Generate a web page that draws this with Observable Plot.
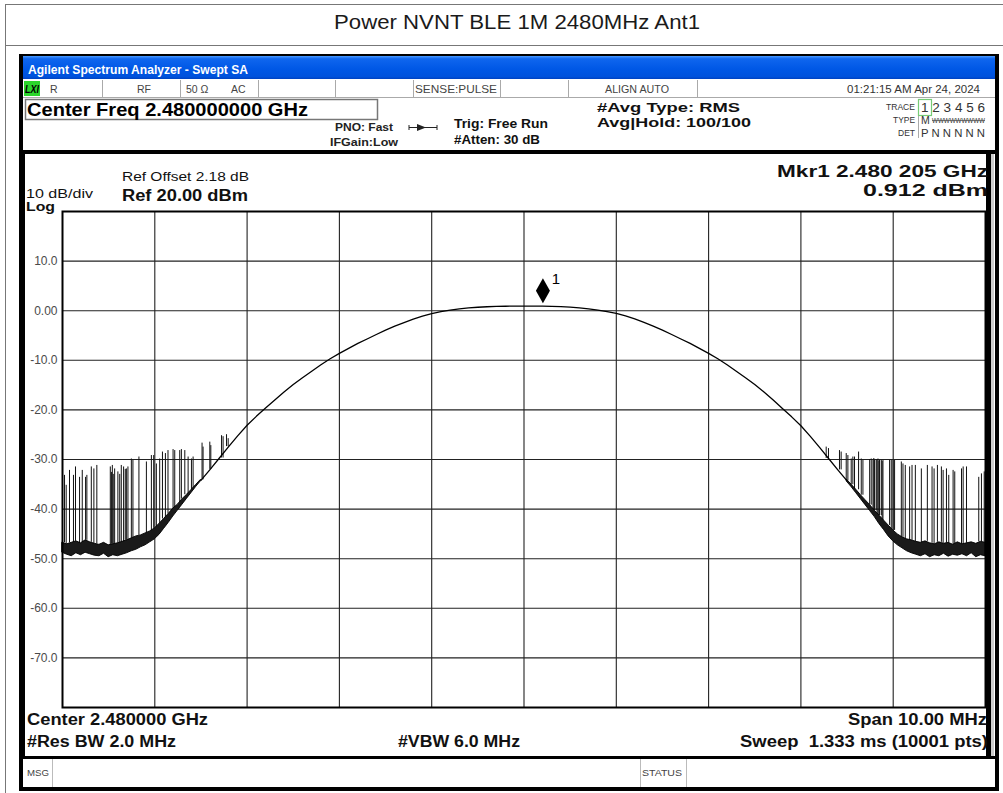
<!DOCTYPE html>
<html>
<head>
<meta charset="utf-8">
<script src="https://cdn.jsdelivr.net/npm/d3@7"></script>
<script src="https://cdn.jsdelivr.net/npm/@observablehq/plot@0.6"></script>
<style>
  html, body { margin: 0; padding: 0; background: #fff; }
  #page { position: relative; width: 1003px; height: 793px; overflow: hidden; }
  #chrome, #chart { position: absolute; left: 0; top: 0; }
  #chart { z-index: 2; }
  #chrome { z-index: 1; }
</style>
</head>
<body>
<div id="page">
  <div id="chrome"></div>
  <div id="chart"></div>
</div>
<script>
// ---------------- data ----------------
const chartTitle = "Power NVNT BLE 1M 2480MHz Ant1";
const xGridTicks = [-4, -3, -2, -1, 0, 1, 2, 3, 4];           // MHz offset from 2.480 GHz
const yGridTicks = [10, 0, -10, -20, -30, -40, -50, -60, -70]; // dBm
const yTickLabels = ["10.0", "0.00", "-10.0", "-20.0", "-30.0", "-40.0", "-50.0", "-60.0", "-70.0"];

// noise floor band (left)
const leftNoiseFreq = [-5.00,-4.95,-4.90,-4.85,-4.80,-4.75,-4.70,-4.65,-4.60,-4.55,-4.50,-4.45,-4.40,-4.35,-4.30,-4.25,-4.20,-4.15,-4.10,-4.05,-4.00,-3.95,-3.90,-3.85,-3.80,-3.75,-3.70,-3.65,-3.60,-3.55,-3.50];
const leftNoiseLow  = [-48.8,-49.2,-49.5,-48.9,-49.3,-48.8,-49.1,-49.4,-49.5,-49.0,-49.7,-49.3,-49.5,-49.2,-48.9,-48.5,-48.2,-47.7,-47.3,-46.7,-46.1,-45.2,-44.0,-42.8,-41.5,-40.3,-39.1,-37.9,-36.7,-35.5,-34.4];
const leftNoiseHigh = [-46.8,-47.1,-46.8,-46.5,-46.9,-46.3,-46.7,-47.0,-47.2,-46.8,-47.3,-47.1,-46.9,-46.6,-46.3,-45.9,-45.5,-45.3,-44.9,-44.5,-43.9,-43.0,-42.0,-41.0,-39.9,-39.1,-38.0,-37.1,-36.1,-35.1,-34.1];

// main channel curve
const curveFreq = [-3.5,-3.4,-3.3,-3.2,-3.1,-3.0,-2.9,-2.8,-2.7,-2.6,-2.5,-2.4,-2.3,-2.2,-2.1,-2.0,-1.9,-1.8,-1.7,-1.6,-1.5,-1.4,-1.3,-1.2,-1.1,-1.0,-0.9,-0.8,-0.7,-0.6,-0.5,-0.4,-0.3,-0.2,-0.1,0.0,0.1,0.2,0.3,0.4,0.5,0.6,0.7,0.8,0.9,1.0,1.1,1.2,1.3,1.4,1.5,1.6,1.7,1.8,1.9,2.0,2.1,2.2,2.3,2.4,2.5,2.6,2.7,2.8,2.9,3.0,3.1,3.2,3.3,3.4,3.5];
const curveLevel = [-34.2,-32.0,-29.7,-27.4,-25.2,-23.1,-21.3,-19.6,-18.0,-16.4,-14.9,-13.5,-12.2,-10.9,-9.7,-8.6,-7.6,-6.6,-5.7,-4.8,-3.9,-3.1,-2.4,-1.7,-1.1,-0.6,-0.2,0.1,0.35,0.55,0.7,0.8,0.86,0.9,0.91,0.91,0.91,0.91,0.88,0.82,0.72,0.58,0.38,0.12,-0.18,-0.55,-1.05,-1.65,-2.35,-3.1,-3.9,-4.8,-5.7,-6.6,-7.6,-8.6,-9.7,-10.9,-12.2,-13.5,-14.9,-16.4,-18.0,-19.7,-21.4,-23.2,-25.3,-27.5,-29.8,-32.1,-34.3];

// noise floor band (right)
const rightNoiseFreq = [3.50,3.55,3.60,3.65,3.70,3.75,3.80,3.85,3.90,3.95,4.00,4.05,4.10,4.15,4.20,4.25,4.30,4.35,4.40,4.45,4.50,4.55,4.60,4.65,4.70,4.75,4.80,4.85,4.90,4.95,5.00];
const rightNoiseLow  = [-34.5,-35.6,-36.8,-38.0,-39.2,-40.4,-41.6,-43.0,-44.2,-45.5,-46.5,-47.3,-47.9,-48.5,-48.9,-49.2,-49.5,-49.1,-49.7,-49.3,-49.5,-49.0,-49.6,-49.2,-49.4,-49.1,-49.5,-48.9,-49.7,-49.3,-49.5];
const rightNoiseHigh = [-34.1,-35.1,-36.1,-37.2,-38.2,-39.2,-40.3,-41.3,-42.3,-43.3,-44.3,-45.1,-45.7,-46.1,-46.3,-46.6,-46.8,-46.5,-46.9,-47.1,-46.7,-47.0,-46.8,-47.2,-46.7,-47.1,-46.9,-46.7,-47.0,-46.6,-46.8];

// spurious spikes (freq MHz, peak dBm)
const leftSpikeFreq = [-4.978,-4.960,-4.924,-4.881,-4.859,-4.815,-4.786,-4.750,-4.736,-4.688,-4.660,-4.628,-4.482,-4.470,-4.460,-4.450,-4.435,-4.400,-4.380,-4.363,-4.338,-4.320,-4.308,-4.291,-4.254,-4.237,-4.172,-4.091,-4.037,-4.012,-3.983,-3.947,-3.917,-3.885,-3.857,-3.802,-3.784,-3.730,-3.712,-3.675,-3.639,-3.603,-3.585,-3.488,-3.477,-3.404,-3.393,-3.277,-3.260,-3.223,-3.205];
const leftSpikeTop  = [-33.2,-35.2,-32.2,-33.2,-31.5,-33.6,-32.2,-33.6,-33.2,-31.5,-31.9,-31.2,-31.5,-32.6,-31.2,-33.0,-31.9,-32.5,-33.0,-31.2,-31.5,-32.0,-31.9,-31.5,-29.9,-30.2,-29.5,-30.5,-29.2,-29.2,-30.9,-29.9,-28.5,-28.8,-28.2,-28.0,-28.2,-28.2,-28.0,-28.2,-29.5,-29.9,-29.5,-26.7,-27.5,-26.5,-27.2,-25.2,-25.4,-25.0,-25.8];
const rightSpikeFreq = [3.274,3.299,3.418,3.436,3.491,3.509,3.545,3.563,3.581,3.625,3.654,3.672,3.745,3.762,3.781,3.790,3.798,3.816,3.825,3.835,3.845,3.852,3.871,3.880,3.889,3.961,3.979,3.998,4.015,4.088,4.106,4.131,4.178,4.204,4.240,4.305,4.370,4.421,4.443,4.479,4.522,4.541,4.577,4.602,4.649,4.667,4.740,4.758,4.794,4.927,4.956,4.986];
const rightSpikeTop  = [-27.5,-27.8,-28.2,-28.5,-28.8,-29.2,-29.9,-29.5,-29.5,-28.5,-29.9,-30.2,-30.0,-29.9,-30.2,-29.8,-30.2,-30.2,-30.0,-29.9,-30.3,-30.2,-30.2,-30.4,-30.2,-30.2,-30.2,-30.2,-30.2,-30.5,-30.9,-31.2,-31.5,-31.2,-31.2,-31.9,-31.2,-31.5,-31.9,-31.2,-31.5,-32.2,-31.9,-33.2,-32.2,-32.5,-31.9,-31.5,-31.5,-33.6,-32.9,-32.5];

// marker 1
const markerFreq = [0.205];
const markerLevel = [0.912];
const markerLabel = ["1"];

// ---------------- tables built from the arrays ----------------
const leftNoise = leftNoiseFreq.map((f, i) => ({f, lo: leftNoiseLow[i], hi: leftNoiseHigh[i]}));
const rightNoise = rightNoiseFreq.map((f, i) => ({f, lo: rightNoiseLow[i], hi: rightNoiseHigh[i]}));
const curve = curveFreq.map((f, i) => ({f, v: curveLevel[i]}));
const levelF = [...leftNoiseFreq, ...curveFreq, ...rightNoiseFreq];
const levelV = [...leftNoiseHigh, ...curveLevel, ...rightNoiseHigh];
function traceAt(f) { // nearest trace sample
  let b = 0;
  for (let i = 1; i < levelF.length; i++) if (Math.abs(levelF[i] - f) < Math.abs(levelF[b] - f)) b = i;
  return levelV[b];
}
const spikes = [
  ...leftSpikeFreq.map((f, i) => ({f, top: leftSpikeTop[i], base: traceAt(f)})),
  ...rightSpikeFreq.map((f, i) => ({f, top: rightSpikeTop[i], base: traceAt(f)}))
];
const markers = markerFreq.map((f, i) => ({f, v: markerLevel[i], label: markerLabel[i]}));

// tall diamond marker symbol with its tip on the point
const tallDiamond = {
  draw(ctx) {
    ctx.moveTo(0, -3);
    ctx.lineTo(7, -15.5);
    ctx.lineTo(0, -28);
    ctx.lineTo(-7, -15.5);
    ctx.closePath();
  }
};

// ---------------- chart ----------------
const chart = Plot.plot({
  width: 1003,
  height: 793,
  marginLeft: 62,
  marginRight: 18,
  marginTop: 211,
  marginBottom: 86,
  x: {domain: [-5, 5], axis: null},
  y: {domain: [-80, 20], axis: null},
  style: {background: "transparent", fontFamily: "Liberation Sans, Arial, sans-serif"},
  marks: [
    Plot.gridX(xGridTicks, {stroke: "#222", strokeOpacity: 1, strokeWidth: 1.1}),
    Plot.gridY(yGridTicks, {stroke: "#222", strokeOpacity: 1, strokeWidth: 1.1}),
    Plot.axisY(yGridTicks, {
      tickSize: 0, tickPadding: 5, fontSize: 12, color: "#4a4a4a",
      tickFormat: d => yTickLabels[yGridTicks.indexOf(d)]
    }),
    Plot.ruleX(spikes, {x: "f", y1: "base", y2: "top", stroke: "#111", strokeWidth: 1}),
    Plot.areaY(leftNoise, {x: "f", y1: "lo", y2: "hi", fill: "#1a1a1a", stroke: "#000", strokeWidth: 0.9}),
    Plot.areaY(rightNoise, {x: "f", y1: "lo", y2: "hi", fill: "#1a1a1a", stroke: "#000", strokeWidth: 0.9}),
    Plot.line(curve, {x: "f", y: "v", stroke: "#000", strokeWidth: 1.3}),
    Plot.dot(markers, {x: "f", y: "v", symbol: tallDiamond, fill: "#000", stroke: "none"}),
    Plot.text(markers, {x: "f", y: "v", text: "label", dx: 13, dy: -27, fontSize: 15, fill: "#000"}),
    Plot.frame({stroke: "#000", strokeWidth: 2})
  ]
});
document.getElementById("chart").appendChild(chart);

// ---------------- instrument screen chrome (non-data) ----------------
const F = "Liberation Sans, Arial, sans-serif";
const parts = [];
function R(x, y, w, h, fill, extra = "") { parts.push(`<rect x="${x}" y="${y}" width="${w}" height="${h}" fill="${fill}" ${extra}/>`); }
function L(x1, y1, x2, y2, stroke, w = 1) { parts.push(`<line x1="${x1}" y1="${y1}" x2="${x2}" y2="${y2}" stroke="${stroke}" stroke-width="${w}"/>`); }
function T(x, y, s, o = {}) {
  const len = o.len ? `textLength="${o.len}" lengthAdjust="spacingAndGlyphs"` : "";
  const xx = o.right != null ? o.right - o.len : x;
  parts.push(`<text x="${xx}" y="${y}" font-family="${o.family || F}" font-size="${o.size || 12}" font-weight="${o.bold ? "bold" : "normal"}" ${o.italic ? 'font-style="italic"' : ""} fill="${o.fill || "#000"}" text-anchor="${o.anchor || "start"}" ${len}>${s}</text>`);
}

// page frame + title
L(5.5, 4, 5.5, 793, "#777");
L(5, 4.5, 1003, 4.5, "#777");
L(5, 45.5, 1003, 45.5, "#777");
T(334, 29, chartTitle, {size: 20, len: 366, fill: "#1a1a1a"});

// analyzer window
R(19, 54, 980, 737, "#000");
R(23, 79, 972, 708, "#fff");
parts.push(`<defs><linearGradient id="xp" x1="0" y1="0" x2="0" y2="1">
  <stop offset="0" stop-color="#4a9bff"/><stop offset="0.12" stop-color="#0f66ee"/>
  <stop offset="0.55" stop-color="#0058e6"/><stop offset="0.9" stop-color="#0052dc"/>
  <stop offset="1" stop-color="#0042c0"/></linearGradient></defs>`);
R(23, 56, 972, 23, "url(#xp)");
T(28, 74, "Agilent Spectrum Analyzer - Swept SA", {size: 12, bold: true, fill: "#fff", len: 220});

// status row
L(23, 97.5, 995, 97.5, "#aaa");
[102, 180, 258, 335, 413, 500, 568, 697].forEach(x => L(x + 0.5, 80, x + 0.5, 97, "#aaa"));
R(24, 81, 16, 15, "#2bd62b");
T(25, 93, "LXI", {size: 10, bold: true, italic: true, len: 14});
T(50, 93, "R", {size: 10.5, fill: "#444"});
T(137, 93, "RF", {size: 10.5, fill: "#444"});
T(186, 93, "50 Ω", {size: 10.5, fill: "#444"});
T(231, 93, "AC", {size: 10.5, fill: "#444"});
T(415, 93, "SENSE:PULSE", {size: 10.5, fill: "#444", len: 82});
T(605, 93, "ALIGN AUTO", {size: 10.5, fill: "#444", len: 64});
T(0, 93, "01:21:15 AM Apr 24, 2024", {size: 10.5, fill: "#333", len: 133, right: 980});

// center freq box and settings
R(25.5, 99.5, 352, 20, "#fff", 'stroke="#777" stroke-width="1.5"');
T(27, 116, "Center Freq 2.480000000 GHz", {size: 18, bold: true, len: 281});
T(335, 131, "PNO: Fast", {size: 11.5, bold: true, fill: "#222", len: 58});
T(330, 146, "IFGain:Low", {size: 11.5, bold: true, fill: "#222", len: 68});
L(409, 127.5, 437, 127.5, "#222", 1);
parts.push(`<path d="M417,124 L426,127.5 L417,131 Z" fill="#222"/>`);
L(409, 125, 409, 130, "#222", 1);
L(437, 125, 437, 130, "#222", 1);
T(454, 128, "Trig: Free Run", {size: 13, bold: true, fill: "#111", len: 94});
T(454, 144, "#Atten: 30 dB", {size: 12.5, bold: true, fill: "#111", len: 86});
T(597, 112, "#Avg Type: RMS", {size: 13, bold: true, fill: "#111", len: 143});
T(597, 127, "Avg|Hold: 100/100", {size: 13, bold: true, fill: "#111", len: 154});

// trace block
L(918.5, 99, 918.5, 138, "#aaa");
R(918.5, 99.5, 13, 16, "none", 'stroke="#7c7" stroke-width="1.2"');
T(0, 110, "TRACE", {size: 9, fill: "#333", len: 29, right: 915});
T(0, 123, "TYPE", {size: 9, fill: "#333", len: 22, right: 915});
T(0, 136, "DET", {size: 9, fill: "#333", len: 17, right: 915});
T(921, 112, "1 2 3 4 5 6", {size: 12.5, fill: "#333", len: 64});
T(921, 124, "M", {size: 10.5, fill: "#333"});
T(932, 123, "WWWWWWWWW", {size: 7.5, fill: "#333", len: 53});
L(932, 120.5, 985, 120.5, "#555", 0.8);
T(921, 137, "P N N N N N", {size: 11, fill: "#333", len: 64});

// thick separator and panel borders
R(23, 150, 972, 4, "#000");
R(23, 154, 2, 603, "#000");
R(986, 154, 5, 603, "#000");
R(991, 154, 3, 603, "#ccc");

// panel texts
T(122, 181, "Ref Offset 2.18 dB", {size: 13, fill: "#111", len: 127});
T(26, 198, "10 dB/div", {size: 12, fill: "#111", len: 67});
T(122, 201, "Ref 20.00 dBm", {size: 16, bold: true, fill: "#111", len: 126});
T(26, 211, "Log", {size: 12, bold: true, fill: "#111", len: 29});
T(0, 177, "Mkr1 2.480 205 GHz", {size: 17, bold: true, fill: "#111", len: 211, right: 988});
T(0, 196, "0.912 dBm", {size: 16.5, bold: true, fill: "#111", len: 125, right: 988});

// bottom annotation
T(27, 725, "Center 2.480000 GHz", {size: 16, bold: true, fill: "#111", len: 181});
T(0, 725, "Span 10.00 MHz", {size: 16, bold: true, fill: "#111", len: 139, right: 987});
T(27, 747, "#Res BW 2.0 MHz", {size: 16, bold: true, fill: "#111", len: 149});
T(398, 747, "#VBW 6.0 MHz", {size: 16, bold: true, fill: "#111", len: 122});
T(0, 747, "Sweep&#160;&#160;1.333 ms (10001 pts)", {size: 16, bold: true, fill: "#111", len: 248, right: 988});

// message bar
R(23, 756, 972, 3, "#000");
[52, 640, 686].forEach(x => L(x + 0.5, 759, x + 0.5, 787, "#bbb"));
T(27, 776, "MSG", {size: 9, fill: "#444", len: 22});
T(642, 776, "STATUS", {size: 9, fill: "#444", len: 40});

document.getElementById("chrome").innerHTML =
  `<svg width="1003" height="793" viewBox="0 0 1003 793" xmlns="http://www.w3.org/2000/svg">${parts.join("")}</svg>`;
</script>
</body>
</html>
